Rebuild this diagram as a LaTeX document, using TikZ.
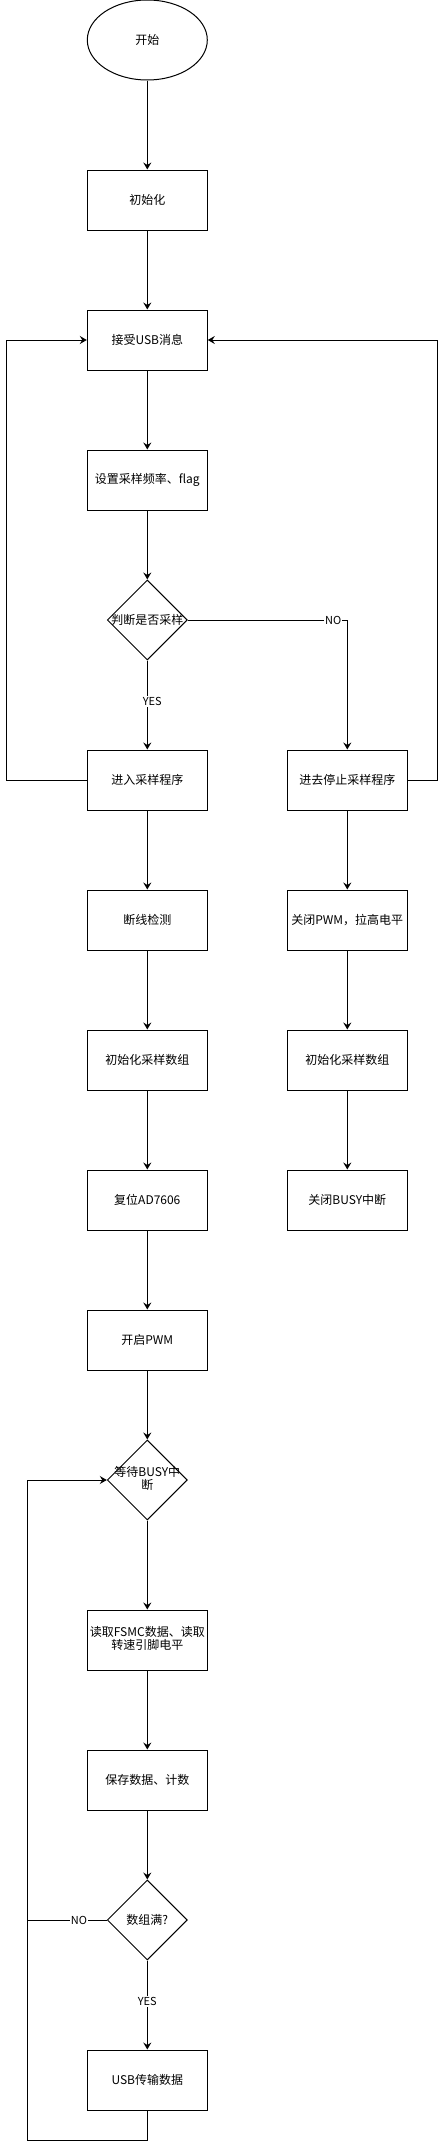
\documentclass[tikz,border=0pt]{standalone}
\usepackage{fontspec}
\setmainfont{Noto Sans CJK SC}
\usetikzlibrary{shapes.geometric,arrows.meta}
\begin{document}
\begin{tikzpicture}[x=1pt,y=-1pt,
  line width=1pt,
  box/.style={draw,rectangle,minimum width=120pt,minimum height=60pt,inner sep=0pt,align=center,font=\fontsize{12}{15}\selectfont},
  decide/.style={draw,diamond,minimum width=80pt,minimum height=80pt,inner sep=0pt,aspect=1,font=\fontsize{12}{15}\selectfont},
  term/.style={draw,ellipse,minimum width=120pt,minimum height=80pt,inner sep=0pt,font=\fontsize{12}{15}\selectfont},
  arr/.style={-{Stealth[length=7pt,width=8pt,inset=2.5pt]}},
  lab/.style={fill=white,inner sep=1pt,font=\fontsize{11}{13}\selectfont}]
\useasboundingbox (0,0) rectangle (446,2149);
% nodes
\node[term] (start) at (147.3,40) {开始};
\node[box] (init) at (147.3,200) {初始化};
\node[box] (usb) at (147.3,340) {接受USB消息};
\node[box] (set) at (147.3,480) {设置采样频率、flag};
\node[decide] (d1) at (147.3,620) {\makebox[0pt]{判断是否采样}};
\node[box] (enter) at (147.3,780) {进入采样程序};
\node[box] (stop) at (347.3,780) {进去停止采样程序};
\node[box] (det) at (147.3,920) {断线检测};
\node[box] (init2) at (147.3,1060) {初始化采样数组};
\node[box] (reset) at (147.3,1200) {复位AD7606};
\node[box] (close) at (347.3,920) {关闭PWM，拉高电平};
\node[box] (init3) at (347.3,1060) {初始化采样数组};
\node[box] (busyoff) at (347.3,1200) {关闭BUSY中断};
\node[box] (pwm) at (147.3,1340) {开启PWM};
\node[decide] (d2) at (147.3,1480) {\makebox[0pt]{\begin{tabular}{@{}c@{}}等待BUSY中\\[-2pt]断\end{tabular}}};
\node[box] (read) at (147.3,1640) {\makebox[0pt]{\begin{tabular}{@{}c@{}}读取FSMC数据、读取\\[-2pt]转速引脚电平\end{tabular}}};
\node[box] (save) at (147.3,1780) {保存数据、计数};
\node[decide] (d3) at (147.3,1920) {\makebox[0pt]{数组满?}};
\node[box] (usbtx) at (147.3,2080) {USB传输数据};
\coordinate (loopc) at (27.3,1480);
% edges
\draw[arr] (start) -- (init);
\draw[arr] (init) -- (usb);
\draw[arr] (usb) -- (set);
\draw[arr] (set) -- (d1);
\draw[arr] (d1) -- node[lab,pos=0.46,xshift=5pt]{YES} (enter);
\draw[arr] (d1.east) -| node[lab,pos=0.456]{NO} (stop.north);
\draw[arr] (enter.west) -- ++(-80,0) |- (usb.west);
\draw[arr] (stop.east) -- ++(30,0) |- (usb.east);
\draw[arr] (enter) -- (det);
\draw[arr] (det) -- (init2);
\draw[arr] (init2) -- (reset);
\draw[arr] (reset) -- (pwm);
\draw[arr] (stop) -- (close);
\draw[arr] (close) -- (init3);
\draw[arr] (init3) -- (busyoff);
\draw[arr] (pwm) -- (d2);
\draw[arr] (d2) -- (read);
\draw[arr] (read) -- (save);
\draw[arr] (save) -- (d3);
\draw[arr] (d3) -- node[lab,pos=0.46]{YES} (usbtx);
\draw (d3.west) -- node[lab,pos=0.35]{NO} (d3.west -| loopc);
\draw[arr] (usbtx.south) -- ++(0,30) -| (loopc) -- (d2.west);
\end{tikzpicture}
\end{document}
